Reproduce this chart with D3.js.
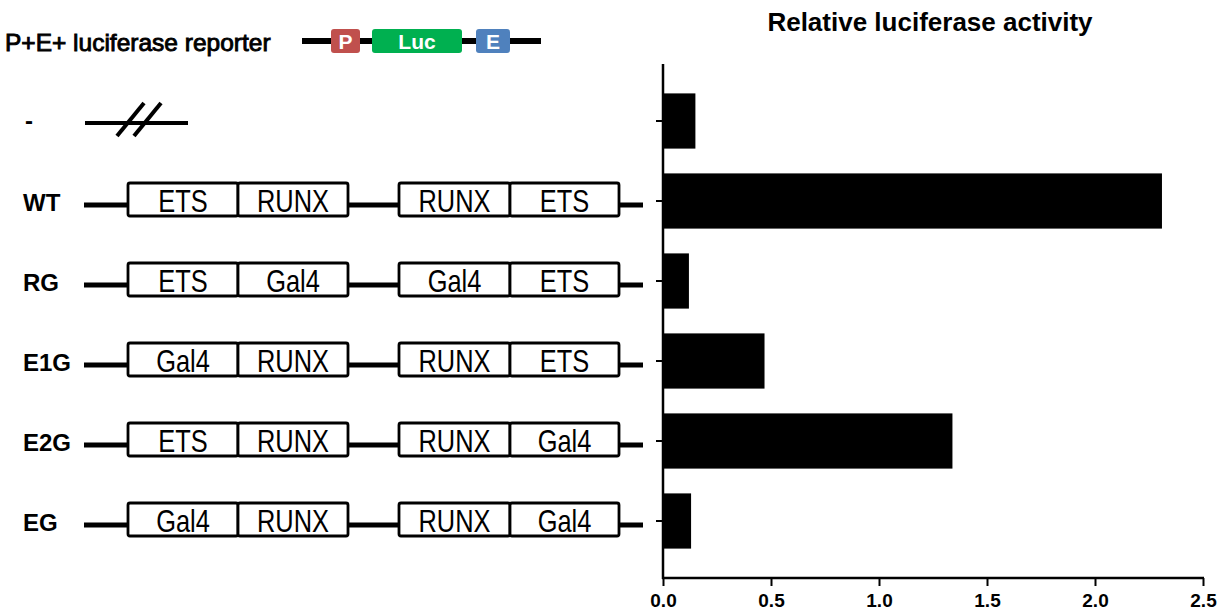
<!DOCTYPE html>
<html>

<head>
    <meta charset="utf-8">
    <style>
        body {
            margin: 0;
            background: #fff;
        }

        svg {
            font-family: "Liberation Sans", Arial, sans-serif;
        }

        .x .tick text {
            font-size: 19px;
            font-weight: bold;
            fill: #000;
        }

        .x .tick line,
        .y .tick line {
            stroke: #000;
            stroke-width: 2px;
        }

        .x .domain,
        .y .domain {
            display: none;
        }
    </style>
</head>

<body>
    <svg width="1225" height="613"></svg>
</body>

<script src="https://d3js.org/d3.v7.min.js"></script>

<script>
    // constructs, top to bottom
    let constructs = ["-", "WT", "RG", "E1G", "E2G", "EG"]
    let activity = [0.15, 2.31, 0.12, 0.47, 1.34, 0.13]

    // site labels in the four boxes of each construct ("-" has none)
    let site1 = [null, "ETS", "ETS", "Gal4", "ETS", "Gal4"]
    let site2 = [null, "RUNX", "Gal4", "RUNX", "RUNX", "RUNX"]
    let site3 = [null, "RUNX", "Gal4", "RUNX", "RUNX", "RUNX"]
    let site4 = [null, "ETS", "ETS", "ETS", "Gal4", "Gal4"]

    let xTicks = [0, 0.5, 1.0, 1.5, 2.0, 2.5]

    // reporter cartoon parts
    let reporterParts = ["P", "Luc", "E"]
    let reporterColors = ["#c0504d", "#00b050", "#4f81bd"]

    let svg = d3.select("svg")

    let rows = constructs.map((c, i) => ({
        name: c,
        value: activity[i],
        sites: [site1[i], site2[i], site3[i], site4[i]]
    }))

    // bar chart scales
    let x = d3.scaleLinear()
        .domain([0, 2.5])
        .range([663, 1203])

    let y = d3.scaleBand()
        .domain(constructs)
        .range([81, 561])
        .paddingInner(0.31)
        .paddingOuter(0.155)

    let mid = d => y(d) + y.bandwidth() / 2

    // title
    svg.append("text")
        .attr("x", 930)
        .attr("y", 31)
        .attr("text-anchor", "middle")
        .style("font-size", "26px")
        .style("font-weight", "bold")
        .text("Relative luciferase activity")

    // bars
    svg.append("g")
        .selectAll("rect")
        .data(rows)
        .join("rect")
        .attr("x", x(0))
        .attr("y", d => y(d.name))
        .attr("width", d => x(d.value) - x(0))
        .attr("height", y.bandwidth())
        .style("fill", "#000")

    // axes
    svg.append("g")
        .attr("class", "x axis")
        .attr("transform", "translate(0,578)")
        .call(d3.axisBottom(x).tickValues(xTicks).tickFormat(d3.format(".1f")).tickSize(8).tickPadding(8))

    svg.append("g")
        .attr("class", "y axis")
        .attr("transform", `translate(${x(0)},0)`)
        .call(d3.axisLeft(y).tickSize(7).tickFormat(""))

    svg.append("line")
        .attr("x1", x(0)).attr("x2", x(0))
        .attr("y1", 64).attr("y2", 579)
        .style("stroke", "#000").style("stroke-width", "2.5px")

    svg.append("line")
        .attr("x1", x(0) - 1).attr("x2", x(2.5) + 1)
        .attr("y1", 578).attr("y2", 578)
        .style("stroke", "#000").style("stroke-width", "2.5px")

    // reporter cartoon on top left
    let rep = svg.append("g")

    rep.append("text")
        .attr("x", 5)
        .attr("y", 51)
        .style("font-size", "24.5px")
        .style("stroke", "#000")
        .style("stroke-width", "0.9px")
        .text("P+E+ luciferase reporter")

    rep.append("line")
        .attr("x1", 302).attr("x2", 541)
        .attr("y1", 41).attr("y2", 41)
        .style("stroke", "#000").style("stroke-width", "6px")

    let partX = [331, 372, 476]
    let partW = [29, 90, 34]

    rep.selectAll(".part")
        .data(reporterParts)
        .join("rect")
        .attr("class", "part")
        .attr("x", (d, i) => partX[i])
        .attr("y", 29)
        .attr("width", (d, i) => partW[i])
        .attr("height", 24)
        .attr("rx", 3)
        .style("fill", (d, i) => reporterColors[i])

    rep.selectAll(".partlabel")
        .data(reporterParts)
        .join("text")
        .attr("class", "partlabel")
        .attr("x", (d, i) => partX[i] + partW[i] / 2)
        .attr("y", 49)
        .attr("text-anchor", "middle")
        .style("font-size", "21px")
        .style("font-weight", "bold")
        .style("fill", "#fff")
        .text(d => d)

    // construct schematics
    let boxX = [128, 238, 399, 510]
    let boxW = [110, 110, 111, 109]

    let rowG = svg.append("g")
        .selectAll("g")
        .data(rows)
        .join("g")
        .attr("transform", d => `translate(0,${mid(d.name)})`)

    rowG.append("text")
        .attr("x", d => d.name == "-" ? 25 : 23)
        .attr("y", d => d.name == "-" ? 8 : 10)
        .style("font-size", "24px")
        .style("font-weight", "bold")
        .text(d => d.name)

    let full = rowG.filter(d => d.name != "-")
    let empty = rowG.filter(d => d.name == "-")

    full.append("line")
        .attr("x1", 84).attr("x2", 643)
        .attr("y1", 4).attr("y2", 4)
        .style("stroke", "#000").style("stroke-width", "5px")

    full.selectAll("rect")
        .data(d => d.sites)
        .join("rect")
        .attr("x", (d, i) => boxX[i])
        .attr("y", -18)
        .attr("width", (d, i) => boxW[i])
        .attr("height", 33)
        .attr("rx", 2)
        .style("fill", "#fff")
        .style("stroke", "#000")
        .style("stroke-width", "2.8px")

    full.selectAll(".site")
        .data(d => d.sites)
        .join("text")
        .attr("class", "site")
        .attr("text-anchor", "middle")
        .attr("transform", (d, i) => `translate(${boxX[i] + boxW[i] / 2},11) scale(0.82,1)`)
        .style("font-size", "31px")
        .text(d => d)

    // the "-" row is just a broken line
    empty.append("line")
        .attr("x1", 85).attr("x2", 188)
        .attr("y1", 2).attr("y2", 2)
        .style("stroke", "#000").style("stroke-width", "4px")

    empty.selectAll(".slash")
        .data([117, 134])
        .join("line")
        .attr("class", "slash")
        .attr("x1", d => d).attr("x2", d => d + 27)
        .attr("y1", 15).attr("y2", -18)
        .style("stroke", "#000").style("stroke-width", "4px")
</script>

</html>
